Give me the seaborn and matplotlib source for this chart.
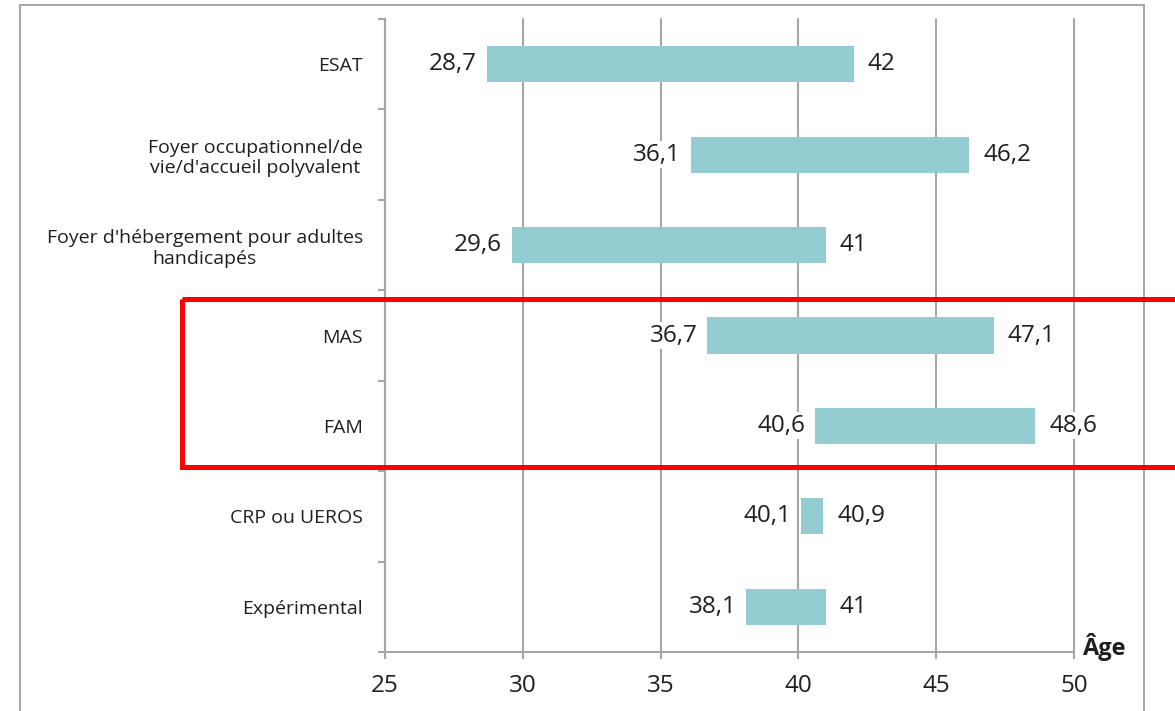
import matplotlib
matplotlib.use("Agg")
import matplotlib.pyplot as plt
import matplotlib.transforms as mtransforms
from matplotlib.patches import Rectangle
import numpy as np
import pandas as pd
import seaborn as sns

# Data
categories = [
    "ESAT",
    "Foyer occupationnel/de\nvie/d'accueil polyvalent",
    "Foyer d'hébergement pour adultes\nhandicapés",
    "MAS",
    "FAM",
    "CRP ou UEROS",
    "Expérimental",
]
age_min = [28.7, 36.1, 29.6, 36.7, 40.6, 40.1, 38.1]
age_max = [42, 46.2, 41, 47.1, 48.6, 40.9, 41]
x_ticks = [25, 30, 35, 40, 45, 50]
highlighted = ["MAS", "FAM"]


def fr(v):
    # French decimal comma, no trailing ",0"
    return f"{v:g}".replace(".", ",")


df = pd.DataFrame({"etab": categories, "debut": age_min, "fin": age_max})
df["duree"] = df["fin"] - df["debut"]

sns.set_theme(style="white")
plt.rcParams["font.family"] = ["Open Sans", "DejaVu Sans"]

grey = "#A6A6A6"
W, H = 1175, 711
fig = plt.figure(figsize=(W / 100, H / 100), dpi=100)
ax = fig.add_axes([385 / W, 1 - 652 / H, (1074 - 385) / W, (652 - 19) / H])

# floating bars: width = duration, starting at the min age
sns.barplot(data=df, x="duree", y="etab", order=categories, orient="h",
            left=df["debut"].values, color="#93CDD1", saturation=1,
            width=0.4, errorbar=None, linewidth=0, ax=ax)

ax.set_xlim(x_ticks[0], x_ticks[-1])
ax.set_ylim(len(categories) - 0.5, -0.5)
ax.set_xticks(x_ticks)
ax.set_xlabel("")
ax.set_ylabel("")

# grid / spines
ax.set_axisbelow(True)
ax.grid(axis="x", color=grey, linewidth=1.5)
ax.grid(axis="y", visible=False)
for line in ax.get_xgridlines():
    line.set_clip_on(False)
for side in ["top", "right"]:
    ax.spines[side].set_visible(False)
for side in ["left", "bottom"]:
    ax.spines[side].set_color(grey)
    ax.spines[side].set_linewidth(1.5)

# y: labels at centres, tick marks at the boundaries
ax.set_yticks(np.arange(len(categories) + 1) - 0.5, minor=True)
ax.tick_params(axis="y", which="major", length=0, pad=16, labelsize=14,
               labelcolor="#1F1F1F")
ax.tick_params(axis="y", which="minor", length=5, width=1.5, color=grey,
               direction="out", left=True)
for lab in ax.get_yticklabels():
    lab.set_multialignment("center")
ax.tick_params(axis="x", length=5, width=1.5, color=grey, direction="out",
               bottom=True, labelsize=17.5, labelcolor="#1F1F1F", pad=11)

# value labels
for i, (lo, hi) in enumerate(zip(age_min, age_max)):
    ax.annotate(fr(lo), xy=(lo, i), xytext=(-7, 0), textcoords="offset points",
                ha="right", va="center", fontsize=17.5, color="#1F1F1F",
                bbox=dict(fc="white", ec="none", pad=1))
    ax.annotate(fr(hi), xy=(hi, i), xytext=(10, 0), textcoords="offset points",
                ha="left", va="center", fontsize=17.5, color="#1F1F1F",
                bbox=dict(fc="white", ec="none", pad=1))

ax.text(1.012, 0.008, "Âge", transform=ax.transAxes, ha="left", va="center",
        fontsize=17, fontweight="bold", color="#1F1F1F")

# outer chart frame
fig.add_artist(Rectangle((20 / W, -0.05), (1144 - 20) / W, 1.05 - 5 / H,
                         transform=fig.transFigure, fill=False,
                         edgecolor=grey, linewidth=1.5))

# red highlight box round MAS and FAM
i0 = categories.index(highlighted[0])
i1 = categories.index(highlighted[-1])
trans = mtransforms.blended_transform_factory(fig.transFigure, ax.transData)
fig.add_artist(Rectangle((182 / W, i0 - 0.40), 0.9, (i1 - i0) + 0.85,
                         transform=trans, fill=False, edgecolor="#FF0000",
                         linewidth=3.6, clip_on=False))

fig.savefig("out.png", dpi=100)
